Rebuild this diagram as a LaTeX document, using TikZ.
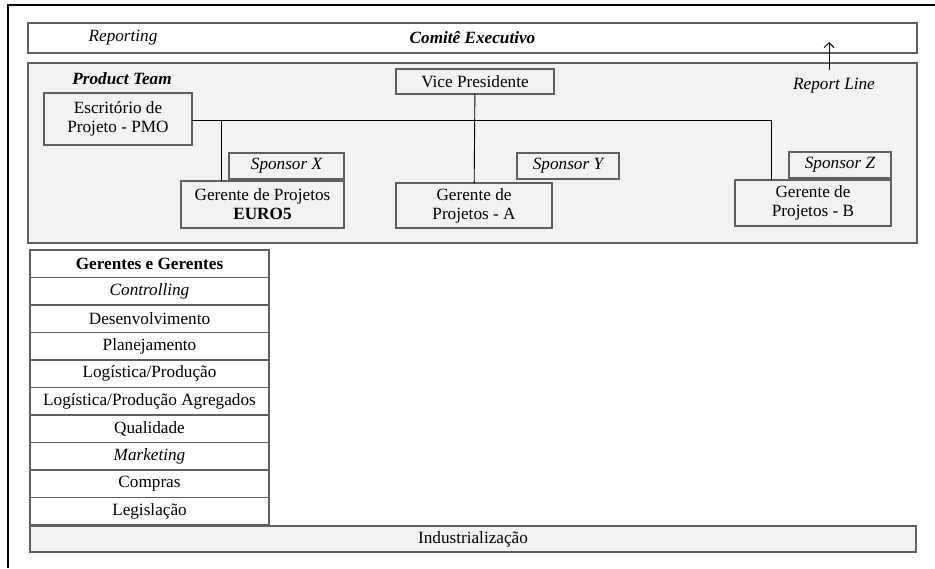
\documentclass[tikz,border=0pt]{standalone}
\usepackage{fontspec}
\setmainfont{Liberation Serif}
\usepackage{tikz}
\usetikzlibrary{positioning,arrows.meta}

\begin{document}
\begin{tikzpicture}[x=1pt, y=-1pt,
  box/.style = {draw = gray!75!black, line width = 1.1pt, shape = rectangle, inner sep = 0pt, outer sep = 0pt, align = center, font = \fontsize{17.2}{19}\selectfont},
  band/.style = {box, fill = gray!10},
  row/.style = {box, fill = white, minimum width = 239pt, minimum height = 27.5pt},
  txt/.style = {inner sep = 0pt, font = \fontsize{17.2}{19}\selectfont\itshape}]
\useasboundingbox (0,0) rectangle (935,568);
\draw[line width = 2.5pt] (8,568) -- (8,5) -- (935,5);
\node[box, fill = white, minimum width = 889pt, minimum height = 30pt] (1) at (472.5,38) {\raisebox{2pt}{\bfseries\itshape Comitê Executivo}};
\node[txt] (2) at (123,38) {Reporting};
\node[band, minimum width = 889pt, minimum height = 180pt] (3) at (472.5,153) {};
\node[txt, font = \fontsize{17.2}{19}\selectfont\bfseries\itshape] (4) at (122,79) {Product Team};
\node[txt] (5) at (834,86) {Report Line};
\coordinate (6) at (829,70);
\node[box, minimum width = 158pt, minimum height = 25pt] (7) at (475,81.5) {Vice Presidente};
\node[box, minimum width = 148pt, minimum height = 52pt] (8) at (118,119) {Escritório de\\Projeto - PMO};
\node[box, font = \fontsize{17.2}{19}\selectfont\itshape, minimum width = 115pt, minimum height = 26pt] (9) at (286.5,166) {Sponsor X};
\node[box, font = \fontsize{17.2}{19}\selectfont\itshape, minimum width = 102pt, minimum height = 26pt] (10) at (568,166) {Sponsor Y};
\node[box, font = \fontsize{17.2}{19}\selectfont\itshape, minimum width = 102pt, minimum height = 26pt] (11) at (840,165) {Sponsor Z};
\node[box, minimum width = 163pt, minimum height = 47pt] (12) at (262.5,204.5) {Gerente de Projetos\\\textbf{EURO5}};
\node[box, minimum width = 156pt, minimum height = 45pt] (13) at (474,205.5) {Gerente de\\Projetos - A};
\node[box, minimum width = 156pt, minimum height = 46pt] (14) at (813,203) {Gerente de\\Projetos - B};
\coordinate (15) at (771,120);
\draw[line width = 0.9pt] (8.east |- 15) -- (15) -- (15 |- 14.north);
\draw[line width = 0.9pt] ([xshift = 40pt]12.north west) -- ([xshift = 40pt]12.north west |- 15);
\draw[line width = 0.9pt] (7) -- (13);
\draw[line width = 0.9pt, -{Straight Barb[length=5pt, width=10pt]}] (6) -- ++(0,-28);
\node[row, font = \fontsize{17.2}{19}\selectfont\bfseries] (16) at (149.5,263.75) {Gerentes e Gerentes};
\node[row, font = \fontsize{17.2}{19}\selectfont\itshape, below = 0pt of 16] (17) {Controlling};
\node[row, below = 0pt of 17] (18) {Desenvolvimento};
\node[row, below = 0pt of 18] (19) {Planejamento};
\node[row, below = 0pt of 19] (20) {Logística/Produção};
\node[row, below = 0pt of 20] (21) {Logística/Produção Agregados};
\node[row, below = 0pt of 21] (22) {Qualidade};
\node[row, font = \fontsize{17.2}{19}\selectfont\itshape, below = 0pt of 22] (23) {Marketing};
\node[row, below = 0pt of 23] (24) {Compras};
\node[row, below = 0pt of 24] (25) {Legislação};
\node[band, minimum width = 886pt, minimum height = 26pt] (26) at (473,539) {Industrialização};
\end{tikzpicture}
\end{document}
